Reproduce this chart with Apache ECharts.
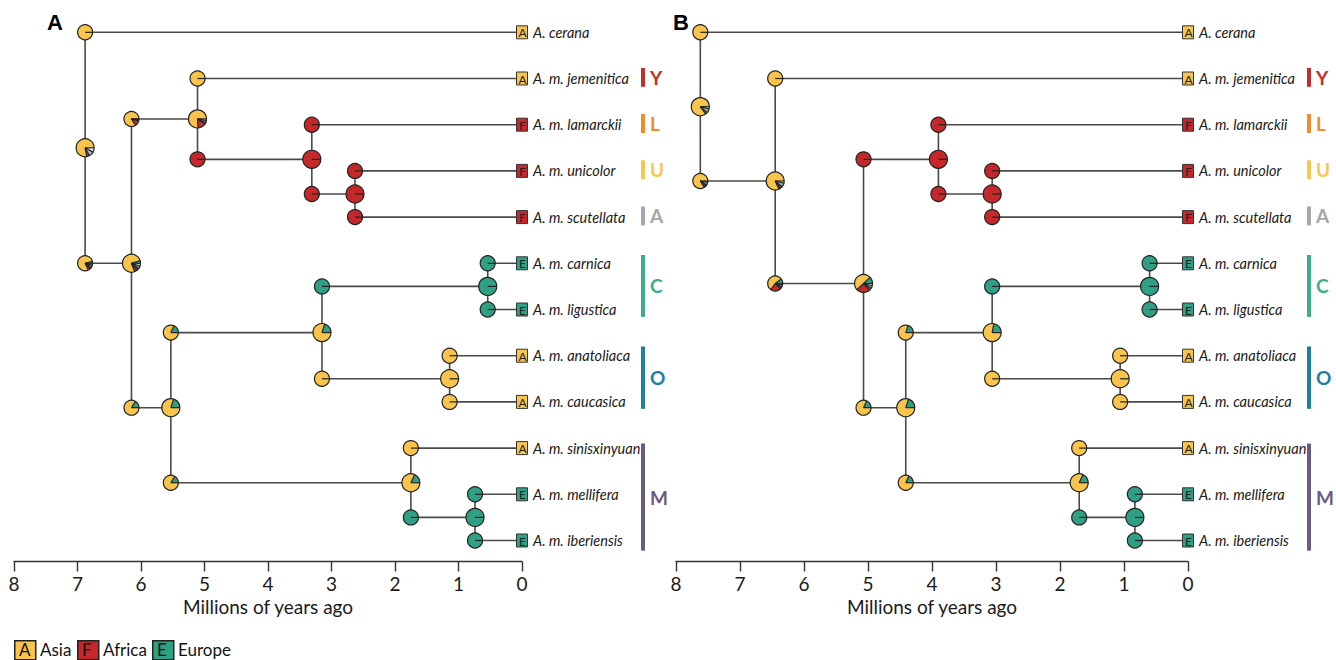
<!DOCTYPE html>
<html><head><meta charset="utf-8">
<script src="https://cdn.jsdelivr.net/npm/echarts@6/dist/echarts.min.js"></script>
<style>html,body{margin:0;padding:0;background:#fff}#main{width:1336px;height:660px}</style>
</head><body><div id="main"></div>
<script>
// ---------- data ----------
const tipNames = ['A. cerana','A. m. jemenitica','A. m. lamarckii','A. m. unicolor','A. m. scutellata','A. m. carnica','A. m. ligustica','A. m. anatoliaca','A. m. caucasica','A. m. sinisxinyuan','A. m. mellifera','A. m. iberiensis'];
const tipAreas = ['A','A','F','F','F','E','E','A','A','A','E','E'];
const areaNames = ['Asia','Africa','Europe'];
const areaCodes = ['A','F','E'];
const xTicks = [8,7,6,5,4,3,2,1,0];
const cladeLabels = ['Y','L','U','A','C','O','M'];
const cladeRows = [[0.77,1.18],[1.77,2.18],[2.77,3.18],[3.77,4.18],[4.82,6.16],[6.8,8.15],[8.9,11.22]];
// pie probability order: [Europe, Asia, Africa, other1, other2, other3]
const E1 = [1,0,0,0,0,0], A1 = [0,1,0,0,0,0], F1 = [0,0,1,0,0,0];

// Panel A (internal nodes; children are tips 't#' or node ids)
const nodeIdsA  = ['UA','LUA','YLUA','C','O','CO','MI','M','COM','MEL','ROOT'];
const nodeAgesA = [2.63, 3.31, 5.11, 0.54, 1.14, 3.15, 0.74, 1.75, 5.53, 6.15, 6.88];
const nodeKidsA = [['t3','t4'],['t2','UA'],['t1','LUA'],['t5','t6'],['t7','t8'],['C','O'],['t10','t11'],['t9','MI'],['CO','M'],['YLUA','COM'],['t0','MEL']];
const nodePieA  = [F1,F1,[0,.76,.15,.02,.04,.03],E1,A1,[.2,.8,0,0,0,0],E1,[.18,.82,0,0,0,0],[.2,.8,0,0,0,0],[.05,.76,.05,.04,.05,.05],[0,.78,0,.05,.09,.08]];
const upPieA    = [F1,F1,A1,E1,A1,E1,E1,A1,[.18,.82,0,0,0,0],[0,.84,.12,.01,.02,.01],A1];
const lowPieA   = [F1,F1,F1,E1,A1,A1,E1,E1,[.16,.84,0,0,0,0],[.16,.84,0,0,0,0],[.04,.78,.05,.04,.05,.04]];

// Panel B
const nodeIdsB  = ['UA','LUA','C','O','CO','MI','M','COM','X','Y','ROOT'];
const nodeAgesB = [3.06, 3.90, 0.60, 1.06, 3.06, 0.83, 1.70, 4.41, 5.07, 6.45, 7.62];
const nodeKidsB = [['t3','t4'],['t2','UA'],['t5','t6'],['t7','t8'],['C','O'],['t10','t11'],['t9','MI'],['CO','M'],['LUA','COM'],['t1','X'],['t0','Y']];
const nodePieB  = [F1,F1,E1,A1,[.22,.78,0,0,0,0],E1,[.18,.82,0,0,0,0],[.2,.8,0,0,0,0],[.12,.5,.25,.04,.05,.04],[0,.82,.03,.04,.07,.04],[0,.85,0,.04,.07,.04]];
const upPieB    = [F1,F1,E1,A1,E1,E1,A1,[.2,.8,0,0,0,0],F1,A1,A1];
const lowPieB   = [F1,F1,E1,A1,A1,E1,E1,[.18,.82,0,0,0,0],[.18,.82,0,0,0,0],[.1,.55,.23,.04,.05,.03],[0,.84,.04,.03,.06,.03]];

// ---------- styles ----------
const areaColors = {A:'#F9C44C', F:'#C5282A', E:'#2FA084'};
const sliceColors = ['#2FA084','#F9C44C','#C5282A','#6E6E6E','#B4B4B4','#EEEEEE'];
const cladeColors = ['#C62D2D','#F38A2B','#F9C74F','#A6A6A6','#3DAE8C','#1F7FA0','#6B5B82'];
const FONT = 'Lato, "Open Sans", sans-serif';

function layout(ids, ages, kids) {
  const row = {}, age = {};
  tipNames.forEach((n,i)=>{ row['t'+i]=i; age['t'+i]=0; });
  ids.forEach((id,k)=>{ row[id]=(row[kids[k][0]]+row[kids[k][1]])/2; age[id]=ages[k]; });
  return {row, age};
}

function panelSeries(ids, ages, kids, nodePie, upPie, lowPie, gi) {
  const L = layout(ids, ages, kids);
  const branches = [], pies = [];
  ids.forEach((id,k)=>{
    const a = ages[k], c1 = kids[k][0], c2 = kids[k][1];
    branches.push([a, L.row[c1], a, L.row[c2]]);
    branches.push([a, L.row[c1], L.age[c1], L.row[c1]]);
    branches.push([a, L.row[c2], L.age[c2], L.row[c2]]);
  });
  ids.forEach((id,k)=>{
    const a = ages[k], c1 = kids[k][0], c2 = kids[k][1];
    pies.push({v:[a, L.row[c1]], p: upPie[k], r: 7.5});
    pies.push({v:[a, L.row[c2]], p: lowPie[k], r: 7.5});
    pies.push({v:[a, L.row[id]], p: nodePie[k], r: 9});
  });
  const tips = tipNames.map((n,i)=>[0,i]);
  const clades = cladeRows.map(r=>[0, r[0], 0, r[1]]);
  return [
    { type:'custom', xAxisIndex:gi, yAxisIndex:gi, z:2, silent:true,
      data: branches, encode:{x:[0,2], y:[1,3]},
      renderItem:(params, api)=>{
        const s = api.coord([api.value(0), api.value(1)]);
        const e = api.coord([api.value(2), api.value(3)]);
        return {type:'line', shape:{x1:s[0],y1:s[1],x2:e[0],y2:e[1]}, style:{stroke:'#4a4a4a', lineWidth:1.6}};
      }
    },
    { type:'custom', xAxisIndex:gi, yAxisIndex:gi, z:3, silent:true,
      data: tips, encode:{x:0, y:1},
      renderItem:(params, api)=>{
        const i = params.dataIndex;
        const c = api.coord([api.value(0), api.value(1)]);
        const ar = tipAreas[i];
        return {type:'group', children:[
          {type:'rect', shape:{x:c[0]-5.5, y:c[1]-6.5, width:11, height:13}, style:{fill:areaColors[ar], stroke:'#333', lineWidth:1}},
          {type:'text', style:{x:c[0]+0.5, y:c[1]+0.5, text:ar, fill:'#222', font:'12px '+FONT, align:'center', verticalAlign:'middle'}},
          {type:'text', style:{x:c[0]+11, y:c[1], text:tipNames[i], fill:'#1a1a1a', font:'italic 14.5px '+FONT, align:'left', verticalAlign:'middle'}}
        ]};
      }
    },
    { type:'custom', xAxisIndex:gi, yAxisIndex:gi, z:4, silent:true,
      data: pies.map(p=>p.v), encode:{x:0, y:1},
      renderItem:(params, api)=>{
        const P = pies[params.dataIndex];
        const c = api.coord([api.value(0), api.value(1)]);
        const cx = c[0], cy = c[1], r = P.r;
        const ch = [];
        let a = 0; const bounds = [];
        P.p.forEach((f,i)=>{
          if (f <= 0) return;
          bounds.push(a);
          if (f >= 0.999) {
            ch.push({type:'circle', shape:{cx, cy, r}, style:{fill:sliceColors[i]}});
          } else {
            const a1 = a + f*2*Math.PI;
            ch.push({type:'sector', shape:{cx, cy, r, r0:0, startAngle:-a, endAngle:-a1, clockwise:false}, style:{fill:sliceColors[i]}});
            a = a1;
          }
        });
        ch.push({type:'circle', shape:{cx, cy, r}, style:{fill:'none', stroke:'#222', lineWidth:1.2}});
        bounds.forEach(b=>ch.push({type:'line', shape:{x1:cx, y1:cy, x2:cx+r*Math.cos(b), y2:cy-r*Math.sin(b)}, style:{stroke:'#222', lineWidth:1.2}}));
        return {type:'group', children:ch};
      }
    },
    { type:'custom', xAxisIndex:gi, yAxisIndex:gi, z:3, silent:true,
      data: clades, encode:{x:0, y:[1,3]},
      renderItem:(params, api)=>{
        const i = params.dataIndex;
        const s = api.coord([api.value(0), api.value(1)]);
        const e = api.coord([api.value(2), api.value(3)]);
        const bx = s[0] + 121;
        return {type:'group', children:[
          {type:'rect', shape:{x:bx-2, y:s[1], width:4, height:e[1]-s[1]}, style:{fill:cladeColors[i]}},
          {type:'text', style:{x:bx+7, y:(s[1]+e[1])/2, text:cladeLabels[i], fill:cladeColors[i], font:'bold 19px '+FONT, align:'left', verticalAlign:'middle'}}
        ]};
      }
    }
  ];
}

function xAxisCfg(gi) {
  return { gridIndex:gi, type:'value', min:0, max:8, interval:1, inverse:true, position:'bottom', offset:21,
    axisLine:{show:true, onZero:false, lineStyle:{color:'#333', width:1.4}},
    axisTick:{show:true, length:10, lineStyle:{color:'#333', width:1.4}},
    axisLabel:{show:true, margin:12, color:'#1a1a1a', fontSize:19, fontFamily:FONT,
      formatter:(v)=> xTicks.indexOf(v) >= 0 ? String(v) : ''},
    splitLine:{show:false},
    name:'Millions of years ago', nameLocation:'middle', nameGap:35,
    nameTextStyle:{color:'#1a1a1a', fontSize:19, fontFamily:FONT}
  };
}
function yAxisCfg(gi) {
  return { gridIndex:gi, type:'value', min:0, max:11, inverse:true, show:false, splitLine:{show:false} };
}

// legend graphics
const legendX = [14, 77, 152];
const legendEls = [];
areaCodes.forEach((code,i)=>{
  legendEls.push({type:'rect', left:legendX[i], top:640, shape:{width:21, height:19}, style:{fill:areaColors[code], stroke:'#222', lineWidth:1.5}});
  legendEls.push({type:'text', left:legendX[i]+5, top:641, style:{text:code, fill:'#111', font:'17px '+FONT}});
  legendEls.push({type:'text', left:legendX[i]+26, top:641, style:{text:areaNames[i], fill:'#111', font:'17px '+FONT}});
});
legendEls.push({type:'text', left:47, top:11, style:{text:'A', fill:'#000', font:'bold 22px "Liberation Sans", Arial, sans-serif'}});
legendEls.push({type:'text', left:673, top:11, style:{text:'B', fill:'#000', font:'bold 22px "Liberation Sans", Arial, sans-serif'}});

const chart = echarts.init(document.getElementById('main'), null, {renderer:'svg', width:1336, height:660});
chart.setOption({
  backgroundColor:'#ffffff',
  animation:false,
  grid:[
    {left:14, top:32.3, width:508, height:508.2},
    {left:676, top:32.3, width:512, height:508.2}
  ],
  xAxis:[xAxisCfg(0), xAxisCfg(1)],
  yAxis:[yAxisCfg(0), yAxisCfg(1)],
  graphic:{elements:legendEls},
  series:[].concat(
    panelSeries(nodeIdsA, nodeAgesA, nodeKidsA, nodePieA, upPieA, lowPieA, 0),
    panelSeries(nodeIdsB, nodeAgesB, nodeKidsB, nodePieB, upPieB, lowPieB, 1)
  )
});
</script></body></html>
